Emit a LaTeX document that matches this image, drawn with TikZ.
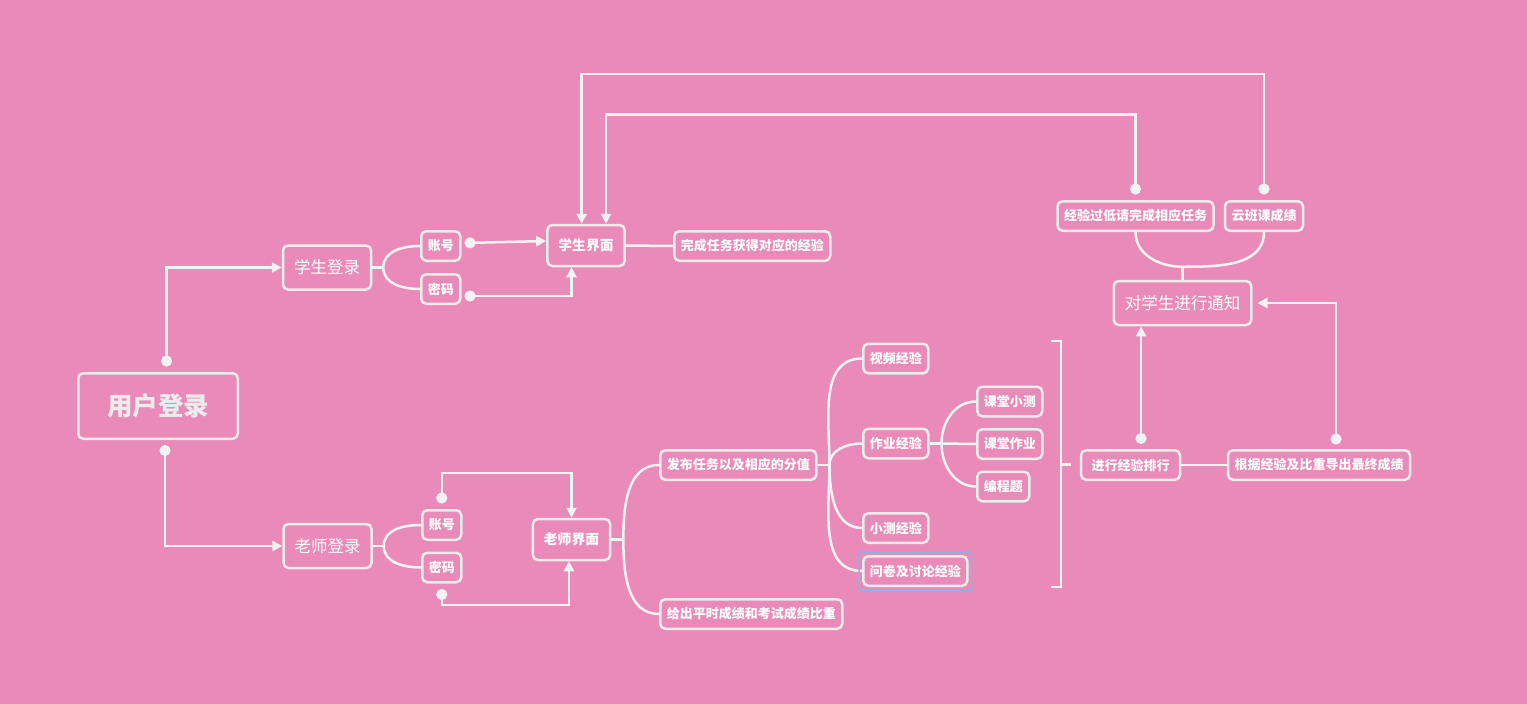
\documentclass[tikz,border=0pt]{standalone}
\usepackage{fontspec}
\setmainfont{Noto Sans CJK SC}
\usetikzlibrary{arrows.meta,calc}
\definecolor{fondo}{RGB}{233,138,184}
\definecolor{linea}{RGB}{243,243,243}
\definecolor{borde}{RGB}{236,236,236}
\definecolor{selec}{RGB}{140,178,236}

\begin{document}
\begin{tikzpicture}[x=1pt,y=-1pt,
    box/.style={draw=borde, line width=2.5pt, rounded corners=5pt, text=white, inner ysep=0pt},
    root/.style={box, font=\fontsize{25.5pt}{26pt}\selectfont\bfseries, text=borde, minimum width=159.5pt, minimum height=65.5pt},
    login/.style={box, font=\fontsize{16.5pt}{17pt}\selectfont, inner xsep=11pt, minimum height=44pt},
    hub/.style={box, font=\fontsize{13.8pt}{14pt}\selectfont\bfseries, inner xsep=11pt, minimum height=41pt},
    leaf/.style={box, font=\fontsize{13pt}{13pt}\selectfont\bfseries, inner xsep=6.5pt, minimum height=29.5pt},
    link/.style={draw=linea, line width=2.5pt},
    dotarrow/.style={link, {Circle[length=11pt]}-{Triangle[length=10pt,width=10pt]}},
]
    % -----------------------------------------------------
    % 0) Fondo
    % -----------------------------------------------------
    \useasboundingbox (0,0) rectangle (1527,704);
    \fill[fondo] (0,0) rectangle (1527,704);

    % -----------------------------------------------------
    % 1) Entrada y login
    % -----------------------------------------------------
    \node[root] (root) at (158,406) {用户登录};
    \node[login] (stulogin) at (327,267.5) {学生登录};
    \node[login] (tealogin) at (327.5,546) {老师登录};
    \node[leaf, anchor=west] (sacc) at (420,246) {账号};
    \node[leaf, anchor=west] (spwd) at (420,289) {密码};
    \node[leaf, anchor=west] (tacc) at (421,525) {账号};
    \node[leaf, anchor=west] (tpwd) at (421,567.5) {密码};

    \draw[dotarrow] ([xshift=8.5pt,yshift=5.5pt]root.north) |- (stulogin.west);
    \draw[dotarrow] ([xshift=7pt,yshift=-5pt]root.south) |- (tealogin.west);

    \draw[link] (stulogin.east) -- ++(11,0) coordinate (sj);
    \draw[link] (sj) to[out=90,in=180] (sacc.west);
    \draw[link] (sj) to[out=-90,in=180] (spwd.west);
    \draw[link] (tealogin.east) -- ++(11,0) coordinate (tj);
    \draw[link] (tj) to[out=90,in=180] (tacc.west);
    \draw[link] (tj) to[out=-90,in=180] (tpwd.west);

    % -----------------------------------------------------
    % 2) Interfaz del alumno
    % -----------------------------------------------------
    \node[hub] (stuui) at (586,245.5) {学生界面};
    \node[leaf, anchor=west] (gain) at (673,246) {完成任务获得对应的经验};

    \draw[dotarrow] ([xshift=3pt,yshift=3pt]sacc.east) -- ([yshift=4.5pt]stuui.west);
    \draw[dotarrow] ([xshift=3pt,yshift=-7pt]spwd.east) -| ([xshift=-14.5pt]stuui.south);
    \draw[link] (stuui.east) -- (gain.west);

    % -----------------------------------------------------
    % 3) Interfaz del profesor
    % -----------------------------------------------------
    \node[hub] (teaui) at (571.5,539.5) {老师界面};
    \node[leaf, anchor=west] (publish) at (659,465) {发布任务以及相应的分值};
    \node[leaf, anchor=west] (ratio) at (659,614) {给出平时成绩和考试成绩比重};

    \draw[dotarrow] ([yshift=5.5pt]tacc.north) -- ++(0,-30.5) -| (teaui.north);
    \draw[dotarrow] ([yshift=-5.5pt]tpwd.south) -- ++(0,16) -| ([xshift=-2.5pt]teaui.south);

    \draw[link] (teaui.east) -- ++(12,0) coordinate (ej);
    \draw[link] (ej) to[out=90,in=180] (publish.west);
    \draw[link] (ej) to[out=-90,in=180] (ratio.west);

    % -----------------------------------------------------
    % 4) Tipos de experiencia
    % -----------------------------------------------------
    \node[leaf, anchor=west] (video) at (862,358.5) {视频经验};
    \node[leaf, anchor=west] (hw) at (862,443.5) {作业经验};
    \node[leaf, anchor=west] (quiz) at (862,528) {小测经验};
    \node[leaf, anchor=west] (survey) at (862,571) {问卷及讨论经验};
    \node[leaf, anchor=west] (inquiz) at (976,401.5) {课堂小测};
    \node[leaf, anchor=west] (inhw) at (976,444) {课堂作业};
    \node[leaf, anchor=west] (prog) at (976,486.5) {编程题};

    \draw[link] (publish.east) -- ++(12,0) coordinate (pj);
    \draw[link] (pj) to[out=90,in=180] (video.west);
    \draw[link] (pj) to[out=90,in=180] (hw.west);
    \draw[link] (pj) to[out=-90,in=180] (quiz.west);
    \draw[link] (pj) to[out=-90,in=180] (survey.west);
    \draw[selec, line width=1.5pt, rounded corners=2pt]
        ([shift={(-3pt,-3pt)}]survey.south west) rectangle ([shift={(3pt,3pt)}]survey.north east);

    \draw[link] (hw.east) -- ++(12,0) coordinate (hj);
    \draw[link] (hj) to[out=90,in=180] (inquiz.west);
    \draw[link] (hj) -- (inhw.west);
    \draw[link] (hj) to[out=-90,in=180] (prog.west);

    % corchete
    \draw[link] (1051,341) -| (1061,587) -- (1051,587);
    \draw[link] (1061,464.5) -- (1071,464.5);

    % -----------------------------------------------------
    % 5) Ranking, nota final y aviso
    % -----------------------------------------------------
    \node[leaf, inner xsep=10.5pt] (rank) at (1130.5,465) {进行经验排行};
    \node[leaf] (final) at (1319,465) {根据经验及比重导出最终成绩};
    \node[login] (notify) at (1182.5,303) {对学生进行通知};
    \node[leaf] (low) at (1135.5,216) {经验过低请完成相应任务};
    \node[leaf] (cloud) at (1264,216) {云班课成绩};

    \draw[link] (rank.east) -- (final.west);
    \draw[dotarrow] ([xshift=10.5pt,yshift=5pt]rank.north) -- ([xshift=-41.5pt]notify.south);
    \draw[dotarrow] ([xshift=17pt,yshift=4.5pt]final.north) |- ([xshift=5pt]notify.east);

    \draw[link] (notify.north) -- ++(0,-13) coordinate (nj);
    \draw[link] (nj) to[out=180,in=-90] (low.south);
    \draw[link] (nj) to[out=0,in=-90] (cloud.south);

    % flechas de vuelta al alumno
    \draw[dotarrow] ([yshift=5.5pt]low.north) -- ++(0,-80) -| ([xshift=20pt]stuui.north);
    \draw[dotarrow] ([yshift=5.5pt]cloud.north) -- ++(0,-120.75) -| ([xshift=-4.3pt]stuui.north);

\end{tikzpicture}
\end{document}
